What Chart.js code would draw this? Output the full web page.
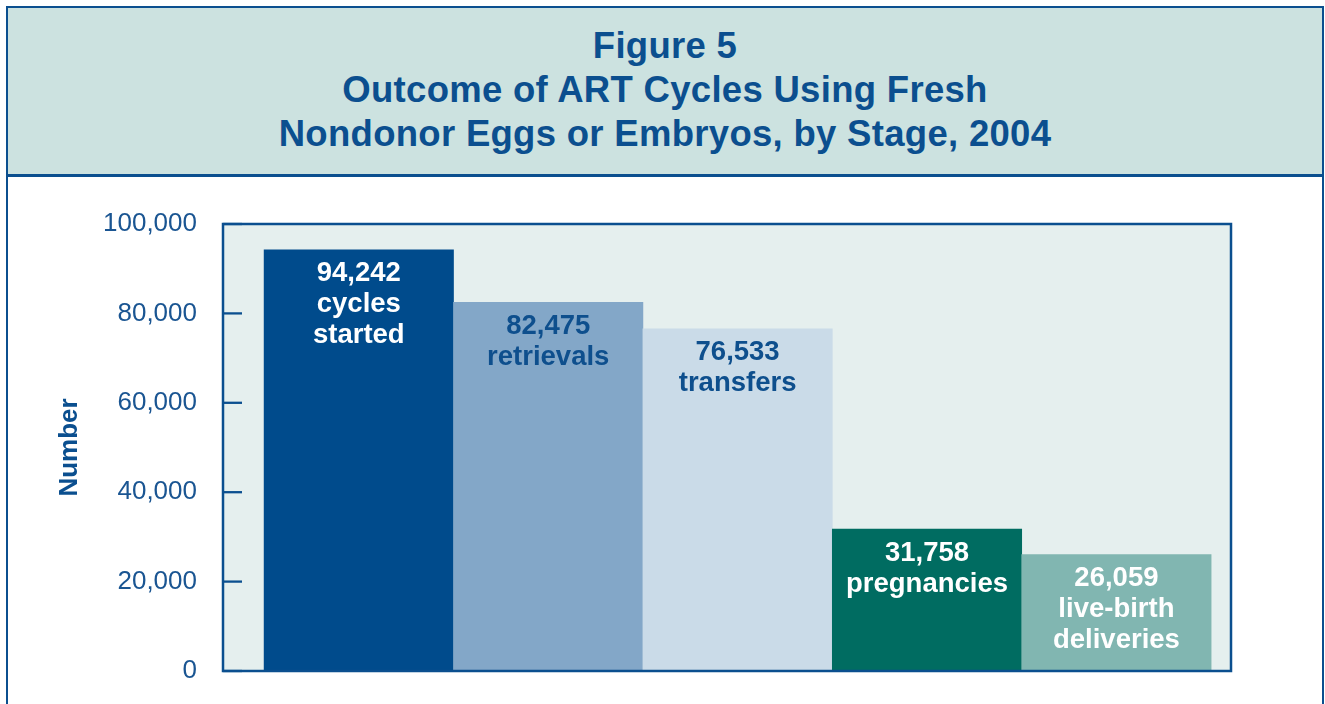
<!DOCTYPE html>
<html lang="en">
<head>
<meta charset="UTF-8">
<title>Figure 5</title>
<script src="https://cdn.jsdelivr.net/npm/chart.js"></script>
<style>
    body { margin: 0; background: #ffffff; width: 1325px; height: 704px; overflow: hidden; position: relative; font-family: "Liberation Sans", Arial, sans-serif; }
    .frame { position: absolute; left: 6px; top: 6px; width: 1318px; height: 760px; box-sizing: border-box; border: 2.5px solid #0b4f8f; }
    .header { height: 169px; background: #cce2e0; border-bottom: 3px solid #0b4f8f; text-align: center; color: #0b4f8f; font-weight: bold; font-size: 36.5px; letter-spacing: 0.3px; line-height: 44px; box-sizing: border-box; }
    .header div { padding-top: 15.5px; }
    #chart { position: absolute; left: 0; top: 180px; }
</style>
</head>
<body>
<div class="frame">
    <div class="header"><div>Figure 5<br>Outcome of ART Cycles Using Fresh<br>Nondonor Eggs or Embryos, by Stage, 2004</div></div>
</div>
<canvas id="chart" width="1325" height="524"></canvas>
<script>
    // data
    const stages = ['cycles started', 'retrievals', 'transfers', 'pregnancies', 'live-birth deliveries'];
    const stageLines = [['cycles', 'started'], ['retrievals'], ['transfers'], ['pregnancies'], ['live-birth', 'deliveries']];
    const values = [94242, 82475, 76533, 31758, 26059];
    const barColors = ['#004b8c', '#83a7c8', '#cadbe8', '#006c61', '#81b6b1'];
    const labelColors = ['#ffffff', '#0e4f8d', '#0e4f8d', '#ffffff', '#ffffff'];
    const yTicks = [0, 20000, 40000, 60000, 80000, 100000];

    const blue = '#0b4f8f';

    // plot box, inward tick marks and bar labels
    const plotBox = {
        id: 'plotBox',
        beforeDatasetsDraw(chart) {
            const { ctx, chartArea: a } = chart;
            ctx.save();
            ctx.fillStyle = '#e5efee';
            ctx.fillRect(a.left, a.top, a.right - a.left, a.bottom - a.top);
            ctx.restore();
        },
        afterDatasetsDraw(chart) {
            const { ctx, chartArea: a, scales } = chart;
            ctx.save();
            ctx.strokeStyle = blue;
            ctx.lineWidth = 2.3;
            yTicks.forEach(v => {
                const y = scales.y.getPixelForValue(v);
                ctx.beginPath();
                ctx.moveTo(a.left, y);
                ctx.lineTo(a.left + 19, y);
                ctx.stroke();
            });
            ctx.lineWidth = 2.5;
            ctx.strokeRect(a.left, a.top, a.right - a.left, a.bottom - a.top);

            // labels inside bars
            ctx.font = 'bold 27.5px "Liberation Sans", Arial, sans-serif';
            ctx.textAlign = 'center';
            ctx.textBaseline = 'middle';
            const meta = chart.getDatasetMeta(0);
            meta.data.forEach((bar, i) => {
                const lines = [values[i].toLocaleString('en-US')].concat(stageLines[i]);
                ctx.fillStyle = labelColors[i];
                lines.forEach((t, j) => {
                    ctx.fillText(t, bar.x, bar.y + 24 + j * 31);
                });
            });
            ctx.restore();
        }
    };

    new Chart(document.getElementById('chart'), {
        type: 'bar',
        data: {
            labels: stages,
            datasets: [{
                data: values.map((v, i) => ({ x: i, y: v })),
                backgroundColor: barColors,
                borderWidth: 0,
                barPercentage: 1,
                categoryPercentage: 1
            }]
        },
        options: {
            responsive: false,
            animation: false,
            layout: { padding: { left: 0, right: 94, top: 44, bottom: 33 } },
            plugins: {
                legend: { display: false },
                tooltip: { enabled: false }
            },
            scales: {
                x: {
                    type: 'linear',
                    display: false,
                    offset: false,
                    min: -0.717,
                    max: 4.605,
                    afterBuildTicks(scale) { scale.ticks = values.map((v, i) => ({ value: i })); },
                    ticks: { display: false },
                    grid: { display: false, offset: false },
                    border: { display: false }
                },
                y: {
                    min: 0,
                    max: 100000,
                    afterFit(scale) {
                        scale.width = 223;
                        scale.paddingTop = 0;
                        scale.paddingBottom = 0;
                    },
                    afterBuildTicks(scale) { scale.ticks = yTicks.map(v => ({ value: v })); },
                    border: { display: false },
                    grid: { display: false, drawTicks: false },
                    ticks: {
                        padding: 26,
                        color: '#1a5592',
                        font: { family: '"Liberation Sans", Arial, sans-serif', size: 26 },
                        callback: v => v.toLocaleString('en-US')
                    },
                    title: {
                        display: true,
                        text: 'Number',
                        color: blue,
                        font: { family: '"Liberation Sans", Arial, sans-serif', size: 26, weight: 'bold' },
                        padding: { top: 54, bottom: 0 }
                    }
                }
            }
        },
        plugins: [plotBox]
    });
</script>
</body>
</html>
